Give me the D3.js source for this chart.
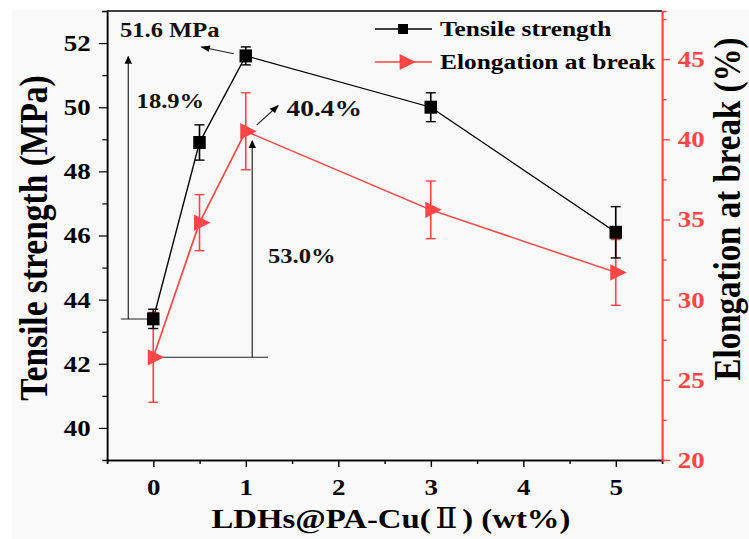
<!DOCTYPE html>
<html>
<head>
<meta charset="utf-8">
<script src="https://cdn.jsdelivr.net/npm/d3@7"></script>
<style>
  body { margin: 0; background: #fff; }
  svg { display: block; }
  text { font-family: "Liberation Serif", "Times New Roman", serif; font-weight: bold; }
</style>
</head>
<body>
<div id="container"></div>
<script>
const width = 749;
const height = 539;
// the original figure is stretched horizontally, so draw in a narrower viewBox
const S = 1.17;
const vbW = width / S;
const red = "#ff4545";

// data
const loading = [0, 0.5, 1, 3, 5];
const tensile = [43.4, 48.9, 51.6, 50.0, 46.1];
const tensileErr = [0.3, 0.55, 0.28, 0.45, 0.8];
const elongation = [26.4, 34.8, 40.5, 35.6, 31.7];
const elongationErr = [2.8, 1.75, 2.4, 1.8, 2.05];

const xTicks = [0, 1, 2, 3, 4, 5];
const xMinor = [-0.5, 0.5, 1.5, 2.5, 3.5, 4.5];
const leftTicks = [40, 42, 44, 46, 48, 50, 52];
const leftMinor = [41, 43, 45, 47, 49, 51, 53];
const rightTicks = [20, 25, 30, 35, 40, 45];
const rightMinor = [22.5, 27.5, 32.5, 37.5, 42.5, 47.5];

const svg = d3.select("#container").append("svg")
    .attr("width", width)
    .attr("height", height)
    .attr("viewBox", "0 0 " + vbW + " " + height)
    .attr("preserveAspectRatio", "none");

svg.append("rect")
    .attr("x", 12 / S).attr("y", 10)
    .attr("width", vbW).attr("height", height)
    .attr("fill", "#f9f9f9");

const x = d3.scaleLinear().domain([-0.5, 5.5]).range([107 / S, 662 / S]);
const yL = d3.scaleLinear().domain([39, 53]).range([460, 11]);
const yR = d3.scaleLinear().domain([20, 48]).range([460, 11]);

// frame top
svg.append("line")
    .attr("x1", x(-0.5)).attr("x2", x(5.5))
    .attr("y1", yL(53)).attr("y2", yL(53))
    .attr("stroke", "#000").attr("stroke-width", 1.3);

// x axis
const xaxis = svg.append("g")
    .attr("transform", "translate(0," + yL(39) + ")")
    .call(d3.axisBottom(x).tickValues(xTicks).tickSize(7).tickSizeOuter(0).tickFormat(d3.format("d")));
xaxis.append("g").call(d3.axisBottom(x).tickValues(xMinor).tickSize(4).tickFormat(""));
xaxis.selectAll("line").attr("stroke-width", 1.2);
xaxis.selectAll(".domain").attr("stroke-width", 1.4);
xaxis.selectAll("text").attr("font-size", 23).attr("dy", "1.1em").attr("fill", "#000");

// left axis
const laxis = svg.append("g")
    .attr("transform", "translate(" + x(-0.5) + ",0)")
    .call(d3.axisLeft(yL).tickValues(leftTicks).tickSize(7).tickSizeOuter(0));
laxis.append("g").call(d3.axisLeft(yL).tickValues(leftMinor).tickSize(4).tickFormat(""));
laxis.selectAll("line").attr("stroke-width", 1.2);
laxis.selectAll(".domain").attr("stroke-width", 1.3);
laxis.selectAll("text").attr("font-size", 23).attr("dx", "-0.17em").attr("fill", "#000");

// right axis
const raxis = svg.append("g")
    .attr("transform", "translate(" + x(5.5) + ",0)")
    .call(d3.axisRight(yR).tickValues(rightTicks).tickSize(7).tickSizeOuter(0));
raxis.append("g").call(d3.axisRight(yR).tickValues(rightMinor).tickSize(4).tickFormat(""));
raxis.selectAll("line, path").attr("stroke", red).attr("stroke-width", 1.3);
raxis.selectAll(".domain").attr("stroke-width", 1.5);
raxis.selectAll("text").attr("font-size", 23).attr("dx", "0.15em").attr("fill", red);

// axis titles
svg.append("text")
    .attr("transform", "translate(" + (47 / S) + ",238) rotate(-90)")
    .attr("text-anchor", "middle")
    .attr("font-size", 33.5)
    .text("Tensile strength (MPa)");

svg.append("text")
    .attr("transform", "translate(" + (740 / S) + ",209) rotate(-90)")
    .attr("text-anchor", "middle")
    .attr("font-size", 33)
    .text("Elongation at break (%)");

const xt = svg.append("text")
    .attr("x", 391 / S).attr("y", 528)
    .attr("text-anchor", "middle")
    .attr("font-size", 28);
xt.append("tspan").text("LDHs@PA-Cu(");
xt.append("tspan").attr("dx", 4).attr("font-family", "DejaVu Serif").attr("font-weight", "normal").text("Ⅱ");
xt.append("tspan").attr("dx", 4).text(") (wt%)");

// arrow marker
svg.append("defs").append("marker")
    .attr("id", "arrow")
    .attr("viewBox", "0 0 10 10")
    .attr("refX", 9).attr("refY", 5)
    .attr("markerWidth", 9).attr("markerHeight", 8)
    .attr("markerUnits", "userSpaceOnUse")
    .attr("orient", "auto")
    .append("path").attr("d", "M0,1 L10,5 L0,9 Z").attr("fill", "#000");

// annotation guides
const guide = svg.append("g").attr("stroke", "#222").attr("stroke-width", 1).attr("fill", "none");
guide.append("line")
    .attr("x1", x(-0.35)).attr("x2", x(0))
    .attr("y1", yL(tensile[0])).attr("y2", yL(tensile[0]));
guide.append("line")
    .attr("x1", x(-0.27)).attr("x2", x(-0.27))
    .attr("y1", yL(tensile[0])).attr("y2", yL(51.58))
    .attr("marker-end", "url(#arrow)");
guide.append("line")
    .attr("x1", x(0)).attr("x2", x(1.24))
    .attr("y1", yR(elongation[0])).attr("y2", yR(elongation[0]));
guide.append("line")
    .attr("x1", x(1.07)).attr("x2", x(1.07))
    .attr("y1", yR(elongation[0])).attr("y2", yR(39.9))
    .attr("marker-end", "url(#arrow)");
guide.append("line")
    .attr("x1", x(0.87)).attr("x2", x(0.52))
    .attr("y1", yL(51.67)).attr("y2", yL(51.88))
    .attr("marker-end", "url(#arrow)");
guide.append("line")
    .attr("x1", x(1.12)).attr("x2", x(1.35))
    .attr("y1", yR(40.9)).attr("y2", yR(42.1))
    .attr("marker-end", "url(#arrow)");

const ann = svg.append("g").attr("fill", "#111");
ann.append("text").attr("x", x(-0.36)).attr("y", yL(52.18)).attr("font-size", 21).text("51.6 MPa");
ann.append("text").attr("x", x(-0.18)).attr("y", yL(49.97)).attr("font-size", 21).text("18.9%");
ann.append("text").attr("x", x(1.44)).attr("y", yR(41.44)).attr("font-size", 23.5).text("40.4%");
ann.append("text").attr("x", x(1.24)).attr("y", yR(32.3)).attr("font-size", 21).text("53.0%");

// series lines
const lineT = d3.line().x((d, i) => x(loading[i])).y(d => yL(d));
const lineE = d3.line().x((d, i) => x(loading[i])).y(d => yR(d));

svg.append("path").datum(tensile).attr("d", lineT)
    .attr("fill", "none").attr("stroke", "#000").attr("stroke-width", 1.2);
svg.append("path").datum(elongation).attr("d", lineE)
    .attr("fill", "none").attr("stroke", red).attr("stroke-width", 1.5);

// error bars
function errorBars(vals, errs, y, color) {
    const g = svg.append("g").attr("stroke", color).attr("stroke-width", 1.4);
    const cap = 5 / S;
    vals.forEach((v, i) => {
        const cx = x(loading[i]);
        g.append("line").attr("x1", cx).attr("x2", cx).attr("y1", y(v - errs[i])).attr("y2", y(v + errs[i]));
        g.append("line").attr("x1", cx - cap).attr("x2", cx + cap).attr("y1", y(v - errs[i])).attr("y2", y(v - errs[i]));
        g.append("line").attr("x1", cx - cap).attr("x2", cx + cap).attr("y1", y(v + errs[i])).attr("y2", y(v + errs[i]));
    });
}
errorBars(elongation, elongationErr, yR, red);
errorBars(tensile, tensileErr, yL, "#000");

const tri = d3.symbol().type(d3.symbolTriangle).size(115);
svg.selectAll(".tri").data(elongation).enter().append("path")
    .attr("class", "tri")
    .attr("d", tri)
    .attr("transform", (d, i) => "translate(" + x(loading[i]) + "," + yR(d) + ") rotate(90)")
    .attr("fill", red);

const sqW = 12.5 / S, sqH = 13;
svg.selectAll(".sq").data(tensile).enter().append("rect")
    .attr("class", "sq")
    .attr("x", (d, i) => x(loading[i]) - sqW / 2)
    .attr("y", d => yL(d) - sqH / 2)
    .attr("width", sqW).attr("height", sqH)
    .attr("fill", "#000");

// legend
const legend = svg.append("g");
const legendItems = [
    { label: "Tensile strength", color: "#000", shape: "square", y: 29 },
    { label: "Elongation at break", color: red, shape: "triangle", y: 62 }
];
legendItems.forEach(item => {
    legend.append("line")
        .attr("x1", 375 / S).attr("x2", 432 / S)
        .attr("y1", item.y).attr("y2", item.y)
        .attr("stroke", item.color).attr("stroke-width", 1.5);
    if (item.shape === "square") {
        legend.append("rect")
            .attr("x", 398 / S).attr("y", item.y - 5)
            .attr("width", 10 / S).attr("height", 10).attr("fill", item.color);
    } else {
        legend.append("path")
            .attr("d", d3.symbol().type(d3.symbolTriangle).size(110))
            .attr("transform", "translate(" + (405 / S) + "," + item.y + ") rotate(90)")
            .attr("fill", item.color);
    }
    legend.append("text")
        .attr("x", 440 / S).attr("y", item.y + 7)
        .attr("font-size", 21.7)
        .attr("fill", "#000")
        .text(item.label);
});
</script>
</body>
</html>
